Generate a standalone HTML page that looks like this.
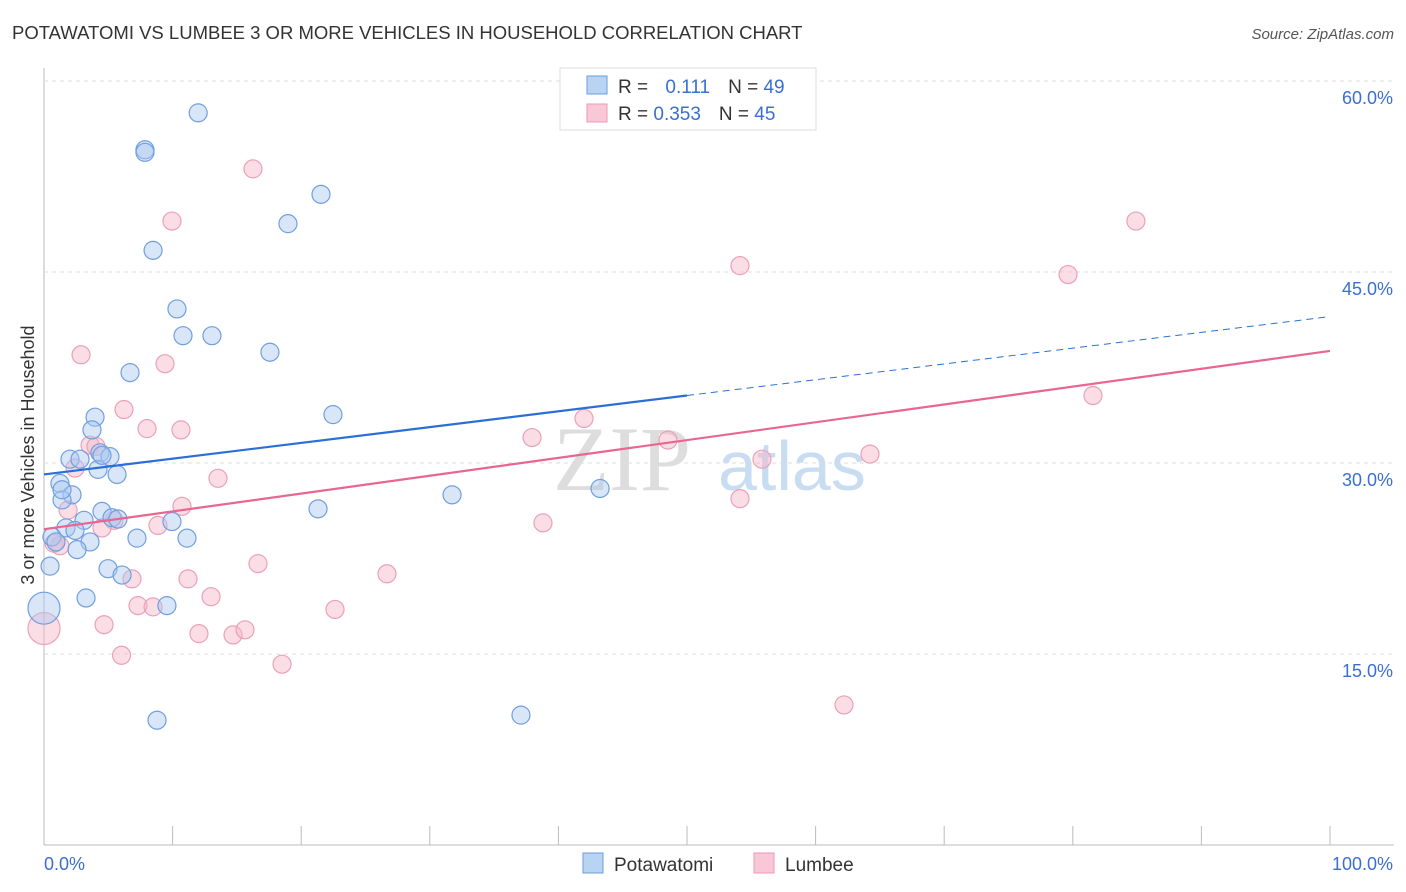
<!DOCTYPE html>
<html><head><meta charset="utf-8"><style>
body{margin:0;background:#fff;font-family:"Liberation Sans",sans-serif}
svg{display:block}
</style></head><body>
<svg id="c" width="1406" height="892">
<text x="12" y="39" font-size="18.5" fill="#333">POTAWATOMI VS LUMBEE 3 OR MORE VEHICLES IN HOUSEHOLD CORRELATION CHART</text>
<text x="1394" y="39" font-size="15" fill="#555" text-anchor="end" font-style="italic">Source: ZipAtlas.com</text>
<text x="34" y="455" font-size="18" fill="#333" text-anchor="middle" transform="rotate(-90 34 455)">3 or more Vehicles in Household</text>
<text x="553" y="490" font-size="92" fill="#ddd" font-family="Liberation Serif">ZIP</text>
<text x="718" y="490" font-size="70" fill="#c8dcf2">atlas</text>
<g id="grid"></g><g id="pts"></g><g id="lines"></g>
<g>
<rect x="560" y="68" width="256" height="62" fill="#fff" stroke="#ddd"/>
<rect x="587" y="76" width="20" height="18" fill="#b9d3f3" stroke="#6a9ee0"/>
<rect x="587" y="104" width="20" height="18" fill="#f9c8d7" stroke="#ec9ab4"/>
<text x="618" y="93" font-size="19" fill="#333">R = <tspan fill="#3a6fd1" dx="12">0.111</tspan><tspan dx="18" fill="#333">N = </tspan><tspan fill="#3a6fd1">49</tspan></text>
<text x="618" y="120" font-size="19" fill="#333">R = <tspan fill="#3a6fd1">0.353</tspan><tspan dx="18" fill="#333">N = </tspan><tspan fill="#3a6fd1">45</tspan></text>
</g>
<g>
<rect x="583" y="853" width="20" height="20" fill="#b9d3f3" stroke="#6a9ee0"/>
<text x="614" y="871" font-size="19" fill="#333">Potawatomi</text>
<rect x="754" y="853" width="20" height="20" fill="#f9c8d7" stroke="#ec9ab4"/>
<text x="785" y="871" font-size="19" fill="#333">Lumbee</text>
</g>
<text x="44" y="870" font-size="18" fill="#3a6fd1">0.0%</text>
<text x="1393" y="870" font-size="18" fill="#3a6fd1" text-anchor="end">100.0%</text>
</svg>
<script>
const yTicks=[15,30,45,60];
const yTickLabels=["15.0%","30.0%","45.0%","60.0%"];
const blueX=[11.99,7.85,7.85,21.54,18.97,8.48,10.34,10.81,13.06,17.57,6.69,3.97,22.47,3.73,2.02,2.8,4.35,5.13,4.2,5.68,1.24,2.18,1.4,4.51,5.29,5.75,3.11,9.95,1.71,2.41,0.62,0.93,3.58,7.23,11.12,2.57,0.47,4.98,6.07,21.31,31.73,43.24,0.0,3.27,9.56,8.79,37.09,4.51,1.4];
const blueY=[57.5,54.6,54.4,51.1,48.8,46.7,42.1,40.0,40.0,38.7,37.1,33.6,33.8,32.6,30.3,30.3,30.8,30.5,29.5,29.1,28.4,27.5,27.1,26.2,25.7,25.6,25.5,25.4,24.9,24.7,24.2,23.8,23.8,24.1,24.1,23.2,21.9,21.7,21.2,26.4,27.5,28.0,18.6,19.4,18.8,9.8,10.2,30.6,27.9];
const blueR=[9,9,9,9,9,9,9,9,9,9,9,9,9,9,9,9,9,9,9,9,9,9,9,9,9,9,9,9,9,9,9,9,9,9,9,9,9,9,9,9,9,9,16,9,9,9,9,9,9];
const pinkX=[16.25,9.95,84.91,54.12,79.63,2.88,9.41,6.22,8.01,10.65,3.58,4.04,37.95,41.99,48.52,81.57,64.23,55.83,2.41,13.53,10.73,54.12,1.87,5.44,4.51,8.86,38.8,0.78,1.24,16.64,26.67,6.84,11.2,12.99,7.31,8.48,22.63,4.67,12.05,14.7,15.63,6.03,18.51,62.21,0.0];
const pinkY=[53.1,49.0,49.0,45.5,44.8,38.5,37.8,34.2,32.7,32.6,31.4,31.3,32.0,33.5,31.8,35.3,30.7,30.3,29.6,28.8,26.6,27.2,26.3,25.5,24.9,25.1,25.3,23.7,23.5,22.1,21.3,20.9,20.9,19.5,18.8,18.7,18.5,17.3,16.6,16.5,16.9,14.9,14.2,11.0,17.0];
const pinkR=[9,9,9,9,9,9,9,9,9,9,9,9,9,9,9,9,9,9,9,9,9,9,9,9,9,9,9,9,9,9,9,9,9,9,9,9,9,9,9,9,9,9,9,9,16];
const blueLine=[29.1,41.5];
const pinkLine=[24.8,38.8];
const NS='http://www.w3.org/2000/svg';
const X=v=>44+v*12.86, Y=v=>845-v*12.733;
function mk(t,a,p){const e=document.createElementNS(NS,t);for(const k in a)e.setAttribute(k,a[k]);p.appendChild(e);return e;}
const grid=document.getElementById('grid');
const ax=mk('line',{x1:44,y1:68,x2:44,y2:845,stroke:'#bbb'},grid);


const bx=mk('line',{x1:44,y1:845,x2:1394,y2:845,stroke:'#bbb'},grid);


for(let i=1;i<=10;i++){const t=mk('line',{x1:X(i*10),x2:X(i*10),y1:826,y2:845,stroke:'#bbb'},grid);

}
yTicks.forEach((v,i)=>{const g=mk('line',{x1:44,x2:1394,y1:Y(v),y2:Y(v),stroke:'#ddd','stroke-dasharray':'4 4'},grid);


const t=mk('text',{x:1393,y:Y(v)+23,'font-size':18,fill:'#3a6fd1','text-anchor':'end'},grid);t.textContent=yTickLabels[i];

});
const pts=document.getElementById('pts');
pinkX.forEach((x,i)=>{const c=mk('circle',{cx:X(x),cy:Y(pinkY[i]),r:pinkR[i],fill:'rgba(246,180,200,0.45)',stroke:'#eca0b8','stroke-width':1.2},pts);

});
blueX.forEach((x,i)=>{const c=mk('circle',{cx:X(x),cy:Y(blueY[i]),r:blueR[i],fill:'rgba(170,200,240,0.45)',stroke:'#6f9fe0','stroke-width':1.2},pts);

});
const L=document.getElementById('lines');
const by=x=>blueLine[0]+(blueLine[1]-blueLine[0])*x/100;
const b1=mk('line',{x1:X(0),y1:Y(by(0)),x2:X(50),y2:Y(by(50)),stroke:'#2b6fd6','stroke-width':2.2},L);


const b2=mk('line',{x1:X(50),y1:Y(by(50)),x2:X(100),y2:Y(by(100)),stroke:'#2b6fd6','stroke-width':1,'stroke-dasharray':'7 5'},L);


const p1=mk('line',{x1:X(0),y1:Y(pinkLine[0]),x2:X(100),y2:Y(pinkLine[1]),stroke:'#e86690','stroke-width':2.2},L);


</script>
</body></html>
